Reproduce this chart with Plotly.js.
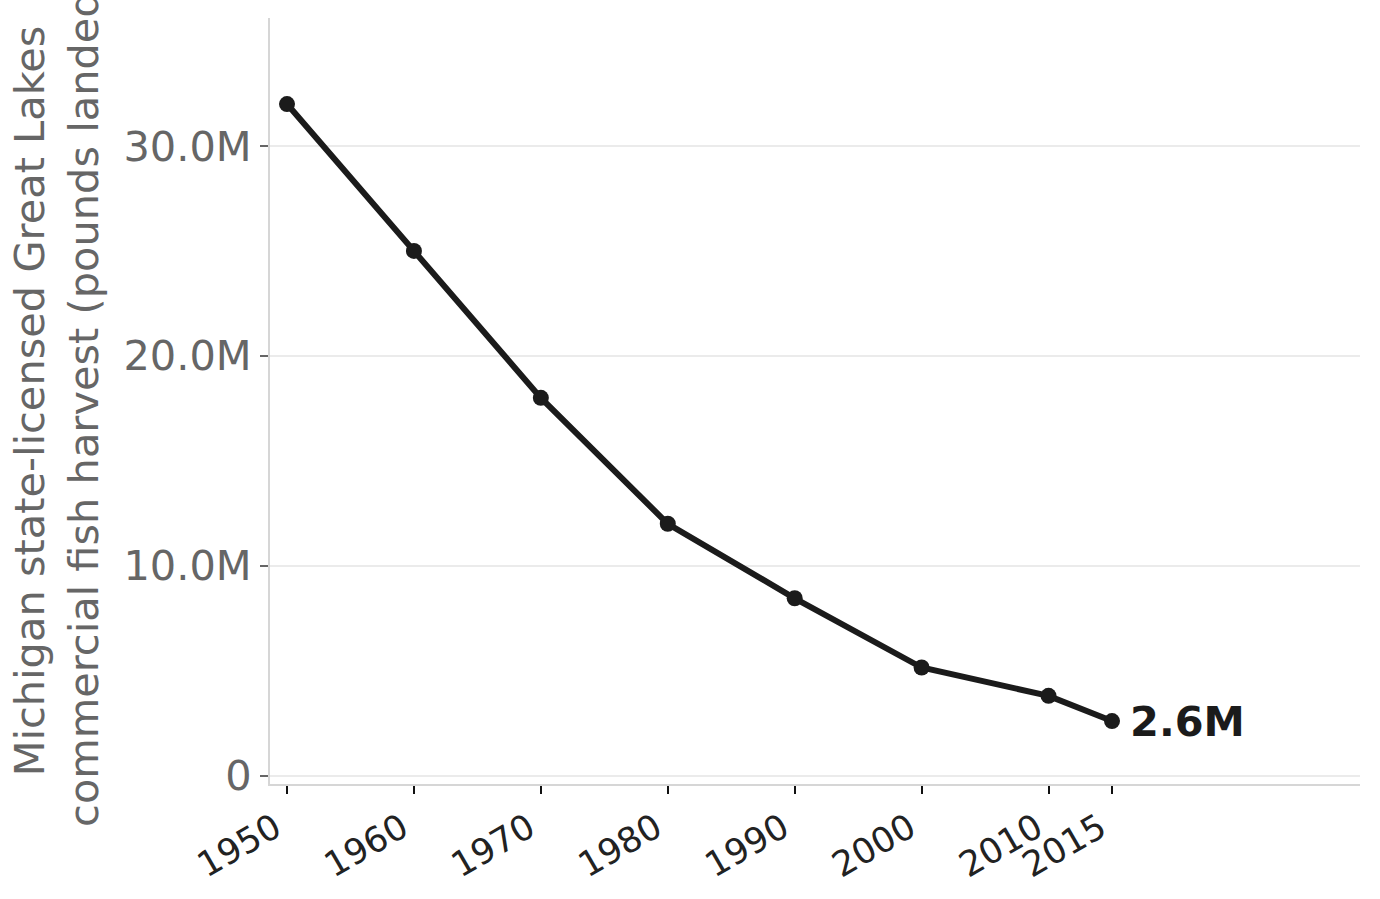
<!DOCTYPE html>
<html>
<head>
<meta charset="utf-8">
<script src="https://cdn.plot.ly/plotly-3.0.1.min.js"></script>
<style>
  html, body { margin: 0; padding: 0; background: #fff; }
  #plot { width: 1380px; height: 899px; }
</style>
</head>
<body>
<div id="plot"></div>
<script>
// Michigan commercial fish harvest, pounds landed
const YEARS = [1950, 1960, 1970, 1980, 1990, 2000, 2010, 2015];
const HARVEST = [32.0e6, 25.0e6, 18.0e6, 12.0e6, 8.45e6, 5.15e6, 3.8e6, 2.6e6];
const Y_TICKS = [0, 10e6, 20e6, 30e6];
const Y_TICK_LABELS = ['0', '10.0M', '20.0M', '30.0M'];
const LAST_LABEL = '2.6M';
const Y_TITLE = 'Michigan state-licensed Great Lakes<br>commercial fish harvest (pounds landed)';

const FONT = 'DejaVu Sans, Liberation Sans, sans-serif';
const INK = '#1b1b1b';

let trace = {
  x: YEARS,
  y: HARVEST,
  type: 'scatter',
  mode: 'lines+markers',
  line: {color: INK, width: 6},
  marker: {color: INK, size: 16},
  hoverinfo: 'skip'
};

let layout = {
  width: 1380,
  height: 899,
  margin: {l: 270, r: 20, t: 18, b: 115},
  paper_bgcolor: '#fff',
  plot_bgcolor: '#fff',
  showlegend: false,
  font: {family: FONT},
  xaxis: {
    range: [1948.66, 2034.54],
    tickvals: YEARS,
    ticktext: YEARS.map(String),
    tickangle: -30,
    tickfont: {size: 35, color: '#222'},
    ticklabelshift: -12,
    ticklabelstandoff: 0,
    ticks: 'outside',
    ticklen: 8,
    tickwidth: 2,
    tickcolor: '#111',
    showgrid: false,
    zeroline: false,
    showline: true,
    linecolor: '#d6d6d6',
    linewidth: 2
  },
  yaxis: {
    range: [-0.4e6, 36.1e6],
    tickvals: Y_TICKS,
    ticktext: Y_TICK_LABELS,
    tickfont: {size: 41.5, color: '#666'},
    ticks: 'outside',
    ticklen: 8,
    tickwidth: 2,
    tickcolor: '#666',
    showgrid: true,
    gridcolor: '#ebebeb',
    gridwidth: 2,
    zeroline: false,
    showline: true,
    linecolor: '#d6d6d6',
    linewidth: 2,
    automargin: true,
    title: {text: Y_TITLE, standoff: 12, font: {size: 41.5, color: '#666'}}
  },
  annotations: [{
    x: YEARS[YEARS.length - 1],
    y: HARVEST[HARVEST.length - 1],
    xref: 'x',
    yref: 'y',
    text: '<b>' + LAST_LABEL + '</b>',
    showarrow: false,
    xanchor: 'left',
    yanchor: 'middle',
    xshift: 16,
    font: {size: 41.5, color: INK}
  }]
};

Plotly.newPlot('plot', [trace], layout, {displayModeBar: false, staticPlot: true});
</script>
</body>
</html>
